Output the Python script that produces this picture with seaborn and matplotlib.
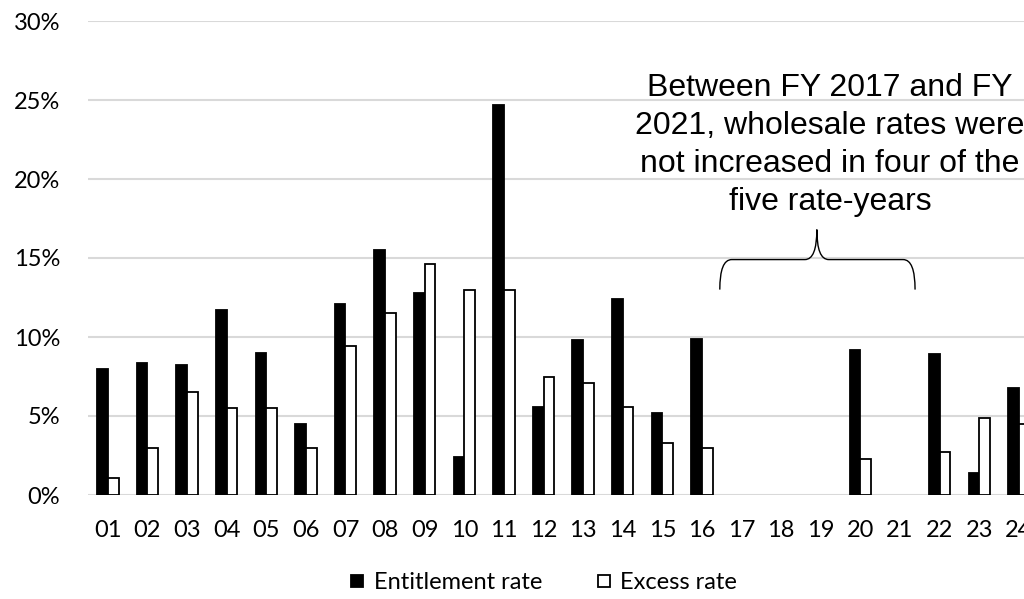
import numpy as np
import pandas as pd
import seaborn as sns
import matplotlib.pyplot as plt
from matplotlib.path import Path
from matplotlib.patches import PathPatch
from matplotlib.lines import Line2D

# 数据
years = ["01", "02", "03", "04", "05", "06", "07", "08", "09", "10", "11", "12",
         "13", "14", "15", "16", "17", "18", "19", "20", "21", "22", "23", "24"]
entitlement = [8.0, 8.35, 8.2, 11.7, 9.0, 4.5, 12.1, 15.5, 12.8, 2.4, 24.7, 5.6,
               9.8, 12.4, 5.2, 9.9, 0, 0, 0, 9.2, 0, 8.9, 1.4, 6.8]
excess = [1.1, 3.0, 6.5, 5.5, 5.5, 3.0, 9.4, 11.5, 14.6, 13.0, 13.0, 7.5,
          7.1, 5.6, 3.3, 3.0, 0, 0, 0, 2.3, 0, 2.7, 4.9, 4.5]
series_names = ["Entitlement rate", "Excess rate"]
series_colors = ["black", "white"]
note = "Between FY 2017 and FY\n2021, wholesale rates were\nnot increased in four of the\nfive rate-years"

df = pd.DataFrame({
    "year": years * 2,
    "rate": np.array(entitlement + excess) / 100,
    "series": [series_names[0]] * len(years) + [series_names[1]] * len(years),
})

sns.set_style("white")
plt.rcParams['font.family'] = ['Lato', 'DejaVu Sans']
plt.rcParams['text.color'] = 'black'

fig = plt.figure(figsize=(10.24, 5.99), dpi=100)
ax = fig.add_axes([88 / 1024, 1 - 495 / 599, 1 - 88 / 1024, (495 - 21) / 599])

sns.barplot(data=df, x="year", y="rate", hue="series", order=years,
            hue_order=series_names, palette=series_colors,
            edgecolor="black", linewidth=1.3, width=0.54, gap=0,
            legend=False, ax=ax)

# 零高度柱子不画边框
for p in ax.patches:
    if p.get_height() == 0:
        p.set_linewidth(0)

ax.set_ylim(0, 0.30)
ax.set_xlim(-0.5, 23.13)
ax.set_yticks(np.arange(0, 0.31, 0.05))
ax.set_yticklabels([f"{int(round(v * 100))}%" for v in np.arange(0, 0.31, 0.05)])
ax.yaxis.grid(True, color="#d9d9d9", linewidth=1.5)
ax.set_axisbelow(True)
for s in ax.spines.values():
    s.set_visible(False)
ax.tick_params(axis="both", length=0, labelsize=17, colors="#000000")
ax.tick_params(axis="y", pad=20)
ax.tick_params(axis="x", pad=18)
ax.set_xlabel("")
ax.set_ylabel("")

# 注释文字与大括号
ax.text(18.23, 0.2215, note, ha="center", va="center", fontsize=23, color="black",
        family=["Liberation Sans", "DejaVu Sans"], linespacing=1.36)
x0, x1, xm = 15.45, 20.38, 17.9
yb, yh, yp = 0.130, 0.149, 0.168
r = 0.3
verts = [(x0, yb), (x0, yh), (x0 + r, yh),
         (xm - r, yh), (xm, yh), (xm, yp),
         (xm, yh), (xm + r, yh),
         (x1 - r, yh), (x1, yh), (x1, yb)]
codes = [Path.MOVETO, Path.CURVE3, Path.CURVE3,
         Path.LINETO, Path.CURVE3, Path.CURVE3,
         Path.CURVE3, Path.CURVE3,
         Path.LINETO, Path.CURVE3, Path.CURVE3]
ax.add_patch(PathPatch(Path(verts, codes), fill=False, edgecolor="black",
                       linewidth=1.0, clip_on=False))

# 图例：方形标记
handles = [Line2D([], [], marker="s", linestyle="", markersize=8.5,
                  markerfacecolor=c, markeredgecolor="black", markeredgewidth=1.3)
           for c in series_colors]
fig.legend(handles, series_names, loc="center", bbox_to_anchor=(0.531, 0.027),
           ncol=2, frameon=False, fontsize=17, handlelength=0.6,
           handletextpad=0.4, columnspacing=2.3, labelcolor="black")

fig.savefig("out.png", dpi=100)
